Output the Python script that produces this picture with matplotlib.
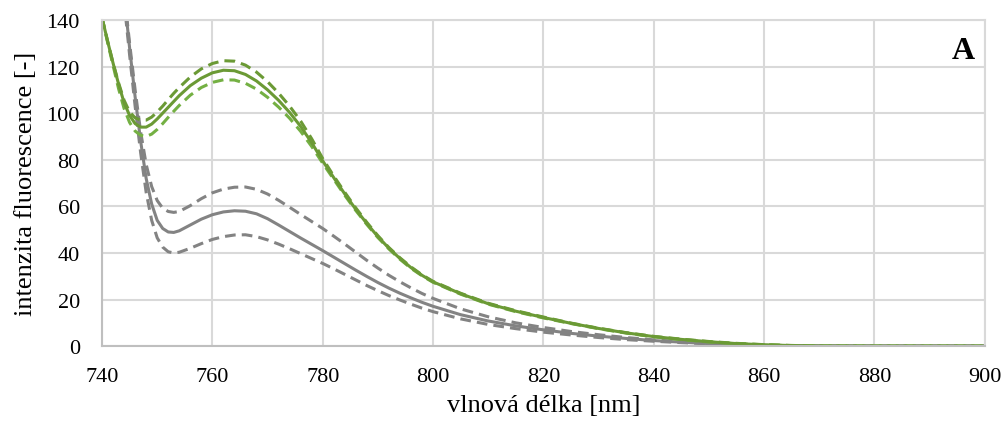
import matplotlib
matplotlib.use("Agg")
import matplotlib.pyplot as plt

plt.rcParams['font.family'] = ['Liberation Serif', 'DejaVu Serif']

wavelength = [740, 741, 742, 743, 744, 745, 746, 747, 748, 749, 750, 751, 752, 753, 754,
              756, 758, 760, 762, 764, 766, 768, 770, 772, 774, 776, 778, 780, 782, 784,
              786, 788, 790, 792, 794, 796, 798, 800, 805, 810, 815, 820, 825, 830, 835,
              840, 845, 850, 855, 860, 865, 870, 880, 890, 900]

green_mean = [141, 131, 121.5, 112.5, 104.5, 99, 95.5, 94, 94, 95.3, 97.5, 100, 102.5, 105, 107.5,
              111.8, 115, 117.3, 118.4, 118.2, 116.6, 113.8, 110, 105.5, 100.3, 94.3, 87.3, 79.5, 72.3, 65.3,
              58.7, 52.6, 47, 42, 37.6, 33.7, 30.4, 27.6, 22.5, 18.2, 15, 12.3, 9.8, 7.6, 5.7,
              4.1, 2.9, 1.9, 1.1, 0.6, 0.25, 0.05, 0, 0, 0]
green_upper = [141, 131, 121.5, 113, 105.5, 100.5, 98, 97, 97, 98.3, 100.5, 103, 105.8, 108.5, 111,
               115.5, 119, 121.3, 122.5, 122.3, 120.6, 117.6, 113.5, 108.6, 103, 96.6, 89, 80.5, 73, 66,
               59.3, 53.1, 47.4, 42.3, 37.9, 34, 30.6, 27.8, 22.7, 18.4, 15.2, 12.5, 9.9, 7.7, 5.8,
               4.2, 3.0, 2.0, 1.2, 0.65, 0.3, 0.05, 0, 0, 0]
green_lower = [141, 130.5, 120.5, 110.5, 102, 96, 92.3, 90.5, 90, 91, 93, 95.5, 98.2, 100.8, 103.3,
               107.7, 111, 113.2, 114.3, 114.2, 112.8, 110.3, 106.8, 102.6, 97.8, 92.2, 85.7, 78.5, 71.6, 64.7,
               58.2, 52.2, 46.6, 41.7, 37.3, 33.4, 30.2, 27.4, 22.3, 18.0, 14.8, 12.1, 9.7, 7.5, 5.6,
               4.0, 2.8, 1.8, 1.0, 0.55, 0.2, 0.05, 0, 0, 0]

grey_mean = [250, 225, 200, 175, 151, 128, 107, 88, 72, 61, 54, 50.5, 49, 48.8, 49.5,
             52, 54.5, 56.4, 57.6, 58.1, 57.9, 56.8, 54.7, 52, 49.2, 46.4, 43.7, 41, 38.2, 35.4,
             32.6, 29.9, 27.3, 24.9, 22.7, 20.7, 18.8, 17.1, 13.5, 10.8, 8.7, 7, 5.5, 4.3, 3.3,
             2.4, 1.7, 1.1, 0.6, 0.3, 0.1, 0.02, 0, 0, 0]
grey_upper = [250, 225, 200, 176, 152, 130, 110, 92, 78, 68.5, 62.5, 59.2, 57.8, 57.4, 57.8,
              60.3, 63.3, 65.8, 67.4, 68.2, 68.3, 67.3, 65.3, 62.6, 59.6, 56.5, 53.5, 50.5, 47.2, 43.8,
              40.3, 36.8, 33.5, 30.4, 27.6, 25, 22.6, 20.5, 16, 12.6, 10, 8, 6.3, 4.9, 3.7,
              2.7, 1.9, 1.2, 0.7, 0.35, 0.12, 0.03, 0, 0, 0]
grey_lower = [250, 224, 199, 173, 148, 125, 103, 83, 66, 54, 46.5, 42.5, 40.5, 40, 40.3,
              42, 44, 45.8, 47, 47.7, 47.8, 47, 45.6, 43.8, 41.8, 39.7, 37.6, 35.5, 33.2, 30.8,
              28.4, 26, 23.8, 21.7, 19.8, 18, 16.3, 14.8, 11.7, 9.3, 7.5, 6, 4.8, 3.7, 2.8,
              2.1, 1.5, 1, 0.55, 0.25, 0.08, 0.02, 0, 0, 0]

x_ticks = [740, 760, 780, 800, 820, 840, 860, 880, 900]
y_ticks = [0, 20, 40, 60, 80, 100, 120, 140]

grey = '#838383'
green_dark = '#6B9A35'
green_light = '#74B043'

fig = plt.figure(figsize=(10.07, 4.27), dpi=100)
ax = fig.add_axes([0.1013, 0.187, 0.8767, 0.764])

dash = (0, (3.5, 2))
lw = 2.2
ax.plot(wavelength, grey_upper, color=grey, lw=lw, ls=dash)
ax.plot(wavelength, grey_lower, color=grey, lw=lw, ls=dash)
ax.plot(wavelength, grey_mean, color=grey, lw=lw)
ax.plot(wavelength, green_upper, color=green_dark, lw=lw, ls=dash)
ax.plot(wavelength, green_lower, color=green_light, lw=lw, ls=dash)
ax.plot(wavelength, green_mean, color=green_dark, lw=lw)

ax.set_xlim(740, 900)
ax.set_ylim(0, 140)
ax.set_xticks(x_ticks)
ax.set_yticks(y_ticks)
ax.grid(True, color='#D9D9D9', lw=1.5)
ax.set_axisbelow(True)
for s in ax.spines.values():
    s.set_color('#D9D9D9')
    s.set_linewidth(1.5)
ax.spines['left'].set_color('#BFBFBF')
ax.spines['bottom'].set_color('#BFBFBF')
ax.tick_params(length=0, labelsize=16, colors='black')
ax.tick_params(axis='x', pad=15)
ax.tick_params(axis='y', pad=16)

ax.set_xlabel('vlnová délka [nm]', fontsize=19, labelpad=6)
ax.set_ylabel('intenzita fluorescence [-]', fontsize=19, labelpad=7)
ax.text(0.989, 0.905, 'A', transform=ax.transAxes, ha='right', va='center',
        fontsize=23, fontweight='bold')

fig.savefig('out.png', dpi=100)
